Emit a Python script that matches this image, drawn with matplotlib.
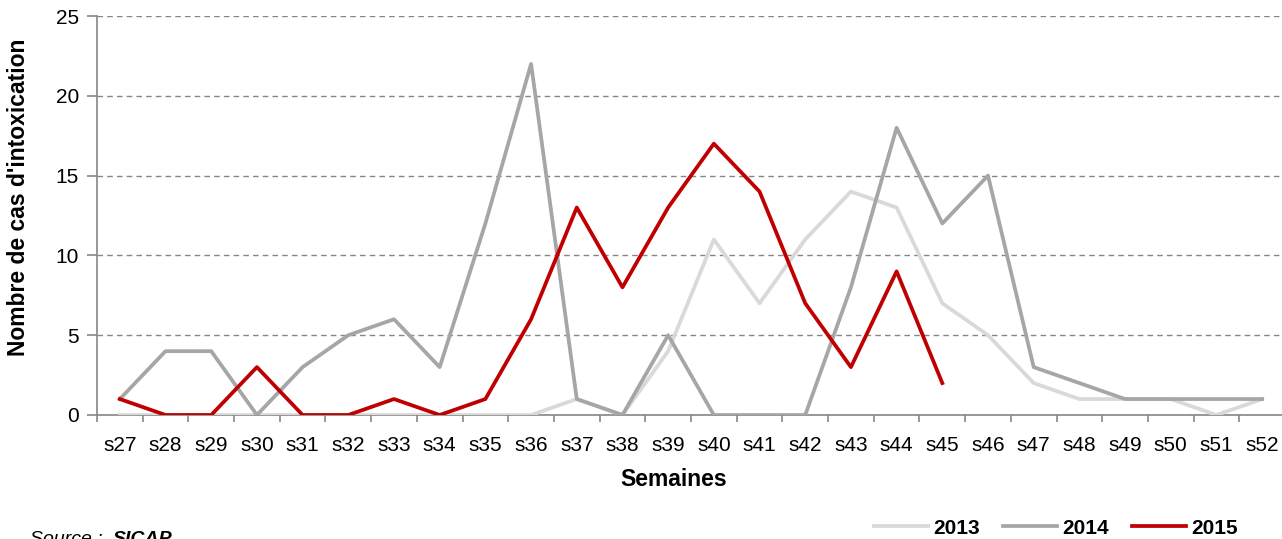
import matplotlib.pyplot as plt
import numpy as np

plt.rcParams['font.family'] = ['Liberation Sans', 'DejaVu Sans']

semaines = ['s%d' % w for w in range(27, 53)]
cas_2013 = [0, 0, 0, 0, 0, 0, 0, 0, 0, 0, 1, 0, 4, 11, 7, 11, 14, 13, 7, 5, 2, 1, 1, 1, 0, 1]
cas_2014 = [1, 4, 4, 0, 3, 5, 6, 3, 12, 22, 1, 0, 5, 0, 0, 0, 8, 18, 12, 15, 3, 2, 1, 1, 1, 1]
cas_2015 = [1, 0, 0, 3, 0, 0, 1, 0, 1, 6, 13, 8, 13, 17, 14, 7, 3, 9, 2]

W, H = 1282, 539
fig = plt.figure(figsize=(W / 100, H / 100), dpi=100)
ax = fig.add_axes([97 / W, 1 - 415 / H, 1188 / W, 399 / H])

x = np.arange(len(semaines))
ax.plot(x, cas_2013, color='#D9D9D9', lw=2.7, label='2013', zorder=3)
ax.plot(x, cas_2014, color='#A6A6A6', lw=2.7, label='2014', zorder=3)
ax.plot(x[:len(cas_2015)], cas_2015, color='#C00000', lw=2.7, label='2015', zorder=4)

ax.set_xlim(-0.5, len(semaines) - 0.5)
ax.set_ylim(0, 25)
ax.set_yticks(range(0, 26, 5))
ax.set_xticks(x)
ax.set_xticklabels(semaines, fontsize=15)
ax.set_xticks(np.arange(-0.5, len(semaines)), minor=True)
ax.tick_params(axis='x', which='major', length=0, pad=15)
ax.tick_params(axis='x', which='minor', length=5, color='#868686', width=1.2)
ax.tick_params(axis='y', labelsize=15, length=7, color='#868686', width=1.2, pad=6)

ax.yaxis.grid(True, linestyle=(0, (4, 3)), color='#868686', lw=1)
ax.set_axisbelow(True)
for s in ['top', 'right']:
    ax.spines[s].set_visible(False)
for s in ['left', 'bottom']:
    ax.spines[s].set_color('#868686')
    ax.spines[s].set_linewidth(1.2)

fig.text(674 / W, 1 - 479 / H, 'Semaines', fontsize=16.5, fontweight='bold',
         ha='center', va='center')
fig.text(19 / W, 1 - 197 / H, "Nombre de cas d'intoxication", fontsize=16.5,
         fontweight='bold', rotation=90, ha='center', va='center')

fig.legend(loc='center right', bbox_to_anchor=(1248 / W, 1 - 528 / H), ncol=3, frameon=False,
           prop={'size': 15, 'weight': 'bold'}, handlelength=2.6, columnspacing=1.1,
           handletextpad=0.25, borderpad=0)

fig.text(30 / W, 1 - 544 / H, 'Source : ', fontsize=14, style='italic', va='baseline')
fig.text(113 / W, 1 - 544 / H, 'SICAP', fontsize=14, style='italic', fontweight='bold',
         va='baseline')

fig.savefig('out.png', dpi=100)
